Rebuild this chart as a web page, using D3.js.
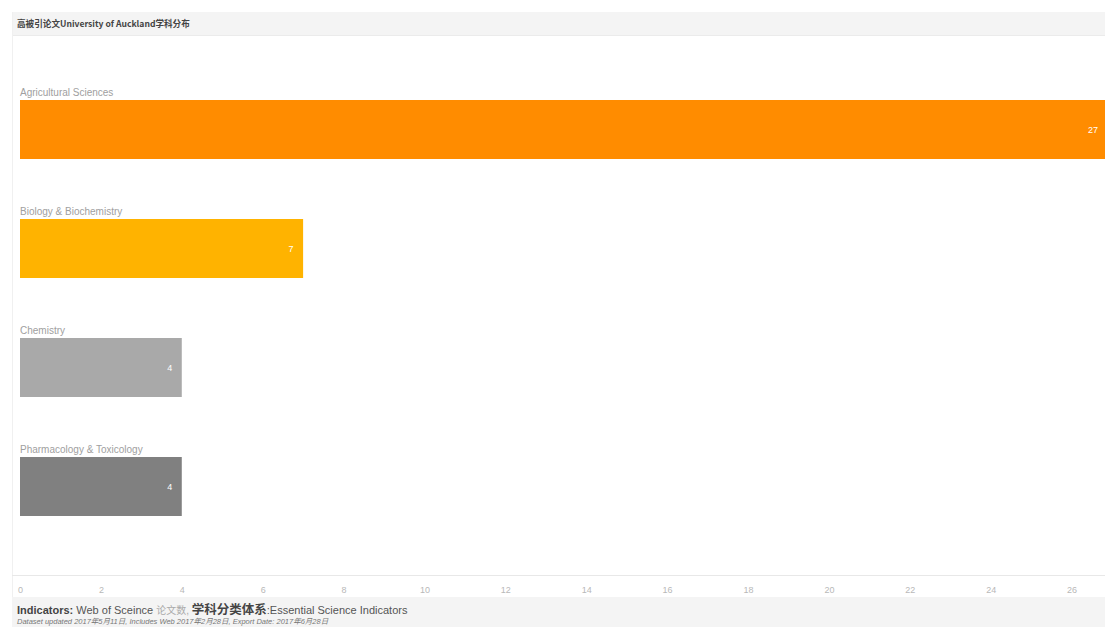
<!DOCTYPE html>
<html><head><meta charset="utf-8">
<script src="https://cdn.jsdelivr.net/npm/d3@7"></script>
<style>
body{margin:0;background:#fff;overflow:hidden;}
svg{display:block;font-family:"Liberation Sans",Arial,sans-serif;}
</style></head>
<body>
<svg id="chart" width="1105" height="627"></svg>
<script>
const titleText = "高被引论文University of Auckland学科分布";
const categories = ["Agricultural Sciences","Biology & Biochemistry","Chemistry","Pharmacology & Toxicology"];
const values = [27, 7, 4, 4];
const colors = ["#ff8c00","#ffb300","#a9a9a9","#808080"];
const tickValues = [0,2,4,6,8,10,12,14,16,18,20,22,24,26];

const svg = d3.select("#chart");
const W = 1105, H = 627;

// header band
svg.append("rect").attr("x",12).attr("y",12).attr("width",W-12).attr("height",23).attr("fill","#f4f4f4");
svg.append("line").attr("x1",12).attr("x2",W).attr("y1",35.5).attr("y2",35.5).attr("stroke","#ebebeb");
svg.append("text").attr("x",17).attr("y",27).attr("font-size",8.6).attr("font-weight","bold").attr("fill","#444")
  .attr("font-family","'Noto Sans CJK SC','Liberation Sans',sans-serif").text(titleText);

// left border line
svg.append("line").attr("x1",12.5).attr("x2",12.5).attr("y1",12).attr("y2",H).attr("stroke","#f0f0f0");

const x = d3.scaleLinear().domain([0,27]).range([20,1112]);
const y = d3.scaleBand().domain(categories).range([40.5,575.5]).paddingInner(60/119).paddingOuter(0.5);

const g = svg.append("g");
const rows = categories.map((c,i)=>({c, v:values[i], col:colors[i]}));
g.selectAll("rect.bar").data(rows).join("rect").attr("class","bar")
  .attr("x",x(0)).attr("y",d=>y(d.c)).attr("width",d=>x(d.v)-x(0)).attr("height",y.bandwidth()).attr("fill",d=>d.col);
g.selectAll("text.cat").data(rows).join("text").attr("class","cat")
  .attr("x",x(0)).attr("y",d=>y(d.c)-4).attr("font-size",10).attr("fill","#a0a0a0").text(d=>d.c);
g.selectAll("text.val").data(rows).join("text").attr("class","val")
  .attr("x",d=>Math.min(x(d.v),W)-12).attr("y",d=>y(d.c)+y.bandwidth()/2+3).attr("text-anchor","middle")
  .attr("font-size",9).attr("fill","#fff").text(d=>d.v);

// axis band
svg.append("line").attr("x1",12).attr("x2",W).attr("y1",575.5).attr("y2",575.5).attr("stroke","#e8e8e8");
const axis = d3.axisBottom(x).tickValues(tickValues).tickSize(0).tickPadding(0);
const ag = svg.append("g").attr("transform","translate(0,587)").call(axis);
ag.select(".domain").remove();
ag.selectAll("text").attr("font-size",9).attr("fill","#b8b8b8").attr("font-family","'Liberation Sans',sans-serif");

// footer band
svg.append("rect").attr("x",12).attr("y",597).attr("width",W-12).attr("height",30).attr("fill","#f4f4f4");
const ft = svg.append("text").attr("x",17).attr("y",614).attr("font-size",11).attr("fill","#555")
  .attr("font-family","'Liberation Sans','Noto Sans CJK SC',sans-serif");
ft.append("tspan").attr("font-weight","bold").attr("fill","#444").text("Indicators: ");
ft.append("tspan").text("Web of Sceince ");
ft.append("tspan").attr("fill","#aaa").attr("font-size",10).text("论文数, ");
ft.append("tspan").attr("font-weight","bold").attr("fill","#444").attr("font-size",12.5).attr("font-family","'Noto Sans CJK SC',sans-serif").text("学科分类体系");
ft.append("tspan").text(":Essential Science Indicators");
svg.append("text").attr("x",17).attr("y",624).attr("font-size",7.5).attr("font-style","italic").attr("fill","#777")
  .attr("font-family","'Liberation Sans','Noto Sans CJK SC',sans-serif")
  .text("Dataset updated 2017年5月11日, Includes Web 2017年2月28日, Export Date: 2017年6月28日");
</script>
</body></html>
